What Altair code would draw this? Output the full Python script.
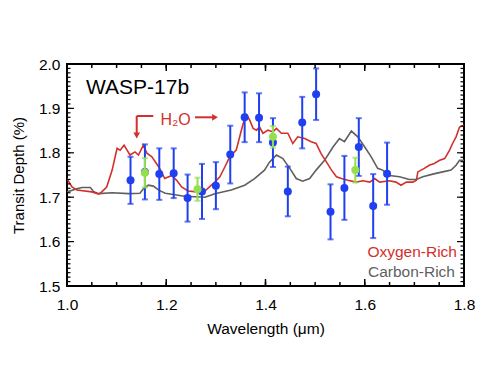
import altair as alt
import pandas as pd

# ---- data ----
blue_wl = [1.128, 1.157, 1.186, 1.215, 1.243, 1.272, 1.300, 1.329, 1.358, 1.387,
           1.415, 1.445, 1.474, 1.502, 1.531, 1.559, 1.588, 1.617, 1.645]
blue_td = [1.738, 1.757, 1.752, 1.754, 1.698, 1.713, 1.726, 1.796, 1.880, 1.879,
           1.823, 1.713, 1.868, 1.932, 1.667, 1.721, 1.813, 1.680, 1.753]
blue_err = [0.053, 0.062, 0.058, 0.056, 0.053, 0.062, 0.053, 0.065, 0.056, 0.055,
            0.055, 0.056, 0.058, 0.058, 0.062, 0.072, 0.065, 0.072, 0.070]

green_wl = [1.157, 1.263, 1.415, 1.581]
green_td = [1.755, 1.718, 1.836, 1.761]
green_err = [0.033, 0.026, 0.024, 0.028]

oxy_wl = [1.000, 1.010, 1.020, 1.050, 1.064, 1.070, 1.080, 1.091, 1.097, 1.101,
          1.107, 1.115, 1.121, 1.127, 1.137, 1.144, 1.154, 1.161, 1.171, 1.185,
          1.197, 1.211, 1.221, 1.231, 1.244, 1.261, 1.278, 1.291, 1.298, 1.308,
          1.318, 1.328, 1.341, 1.348, 1.355, 1.362, 1.368, 1.375, 1.382, 1.388,
          1.395, 1.405, 1.415, 1.422, 1.432, 1.445, 1.455, 1.465, 1.479, 1.492,
          1.502, 1.512, 1.523, 1.533, 1.543, 1.553, 1.566, 1.583, 1.596, 1.610,
          1.620, 1.630, 1.650, 1.663, 1.673, 1.684, 1.697, 1.704, 1.707, 1.720,
          1.730, 1.740, 1.751, 1.761, 1.771, 1.777, 1.784, 1.791, 1.800]
oxy_td = [1.742, 1.723, 1.716, 1.712, 1.707, 1.712, 1.723, 1.761, 1.791, 1.810,
          1.806, 1.817, 1.806, 1.795, 1.802, 1.795, 1.817, 1.799, 1.791, 1.768,
          1.742, 1.749, 1.738, 1.723, 1.714, 1.712, 1.714, 1.727, 1.734, 1.746,
          1.768, 1.791, 1.806, 1.836, 1.866, 1.885, 1.874, 1.855, 1.851, 1.858,
          1.844, 1.851, 1.847, 1.855, 1.844, 1.844, 1.821, 1.836, 1.832, 1.825,
          1.821, 1.798, 1.779, 1.761, 1.746, 1.742, 1.738, 1.734, 1.737, 1.734,
          1.742, 1.734, 1.737, 1.734, 1.727, 1.734, 1.734, 1.738, 1.757, 1.765,
          1.772, 1.776, 1.783, 1.787, 1.806, 1.821, 1.836, 1.858, 1.862]

carb_wl = [1.000, 1.020, 1.030, 1.047, 1.054, 1.064, 1.091, 1.124, 1.147, 1.154,
           1.164, 1.174, 1.185, 1.198, 1.237, 1.278, 1.298, 1.331, 1.358, 1.378,
           1.398, 1.408, 1.415, 1.422, 1.435, 1.449, 1.462, 1.475, 1.489, 1.502,
           1.519, 1.536, 1.549, 1.559, 1.573, 1.586, 1.600, 1.613, 1.626, 1.636,
           1.650, 1.670, 1.690, 1.704, 1.717, 1.737, 1.757, 1.774, 1.784, 1.791,
           1.800]
carb_td = [1.712, 1.719, 1.722, 1.722, 1.712, 1.708, 1.710, 1.708, 1.709, 1.719,
           1.727, 1.725, 1.716, 1.709, 1.702, 1.700, 1.708, 1.716, 1.727, 1.742,
           1.761, 1.779, 1.787, 1.795, 1.787, 1.765, 1.742, 1.736, 1.742, 1.761,
           1.783, 1.813, 1.832, 1.825, 1.849, 1.836, 1.813, 1.791, 1.765, 1.761,
           1.749, 1.746, 1.740, 1.740, 1.746, 1.752, 1.757, 1.761, 1.772, 1.783,
           1.783]

x_labels = [1.0, 1.2, 1.4, 1.6, 1.8]
y_labels = [1.5, 1.6, 1.7, 1.8, 1.9, 2.0]
x_minor = [round(1.0 + 0.05 * i, 2) for i in range(17)]
y_minor = [round(1.5 + 0.01 * i, 2) for i in range(51)]

# ---- styles ----
FONT = "Liberation Sans"
RED = "#d2302a"
GRAY = "#5f5f5f"
BLUE = "#1f3ff0"
GREEN = "#93e04c"
W, H = 397, 222

xs = alt.Scale(domain=[1.0, 1.8], nice=False, zero=False)
ys = alt.Scale(domain=[1.5, 2.0], nice=False, zero=False)
xaxis = alt.Axis(values=x_labels, format=".1f", ticks=False, domain=False, grid=False,
                 labelFont=FONT, labelFontSize=15.5, labelColor="black", labelPadding=11,
                 labelFlush=False, title="Wavelength (μm)", titleFont=FONT,
                 titleFontSize=15.5, titleFontWeight="normal", titleColor="black",
                 titlePadding=9)
yaxis = alt.Axis(values=y_labels, format=".1f", ticks=False, domain=False, grid=False,
                 labelFont=FONT, labelFontSize=15.5, labelColor="black", labelPadding=7,
                 labelFlush=False, title="Transit Depth (%)", titleFont=FONT,
                 titleFontSize=15, titleFontWeight="normal", titleColor="black",
                 titlePadding=12)


def X(f="wl"):
    return alt.X(f, type="quantitative", scale=xs, axis=xaxis)


def Y(f="td"):
    return alt.Y(f, type="quantitative", scale=ys, axis=yaxis)


blue = pd.DataFrame({"wl": blue_wl, "td": blue_td, "err": blue_err})
blue["lo"] = blue["td"] - blue["err"]
blue["hi"] = blue["td"] + blue["err"]
green = pd.DataFrame({"wl": green_wl, "td": green_td, "err": green_err})
green["lo"] = green["td"] - green["err"]
green["hi"] = green["td"] + green["err"]
oxy = pd.DataFrame({"wl": oxy_wl, "td": oxy_td})
carb = pd.DataFrame({"wl": carb_wl, "td": carb_td})
xmaj = pd.DataFrame({"wl": x_labels})
xmin = pd.DataFrame({"wl": x_minor})
ymaj = pd.DataFrame({"td": y_labels})
ymin = pd.DataFrame({"td": y_minor})
one = pd.DataFrame({"k": [0]})

layers = []

# model lines
layers.append(alt.Chart(carb).mark_line(color=GRAY, strokeWidth=1.6, clip=True)
              .encode(x=X(), y=Y()))
layers.append(alt.Chart(oxy).mark_line(color=RED, strokeWidth=1.6, clip=True)
              .encode(x=X(), y=Y()))


def errlayers(df, color, size):
    out = []
    out.append(alt.Chart(df).mark_rule(color=color, strokeWidth=2)
               .encode(x=X(), y=Y("lo"), y2="hi"))
    out.append(alt.Chart(df).mark_tick(color=color, orient="horizontal", size=6, thickness=2)
               .encode(x=X(), y=Y("lo")))
    out.append(alt.Chart(df).mark_tick(color=color, orient="horizontal", size=6, thickness=2)
               .encode(x=X(), y=Y("hi")))
    out.append(alt.Chart(df).mark_point(color=color, filled=True, opacity=1, size=size)
               .encode(x=X(), y=Y()))
    return out


layers += errlayers(blue, BLUE, 64)
layers += errlayers(green, GREEN, 64)

# inward ticks (frame)
for df, ln in ((xmaj, 7), (xmin, 4)):
    layers.append(alt.Chart(df).mark_rule(color="black", strokeWidth=1.5)
                  .encode(x=X(), y=alt.value(H), y2=alt.value(H - ln)))
    layers.append(alt.Chart(df).mark_rule(color="black", strokeWidth=1.5)
                  .encode(x=X(), y=alt.value(0), y2=alt.value(ln)))
for df, ln in ((ymaj, 7), (ymin, 3.5)):
    layers.append(alt.Chart(df).mark_rule(color="black", strokeWidth=1.2)
                  .encode(y=Y(), x=alt.value(0), x2=alt.value(ln)))
    layers.append(alt.Chart(df).mark_rule(color="black", strokeWidth=1.2)
                  .encode(y=Y(), x=alt.value(W), x2=alt.value(W - ln)))

# annotations
layers.append(alt.Chart(one).mark_text(text="WASP-17b", font=FONT, fontSize=21,
                                       align="left", baseline="alphabetic", color="black")
              .encode(x=alt.value(19), y=alt.value(30)))
layers.append(alt.Chart(one).mark_text(text="H₂O", font=FONT, fontSize=16,
                                       align="center", baseline="middle", color=RED)
              .encode(x=alt.value(108.5), y=alt.value(56)))
layers.append(alt.Chart(one).mark_rule(color=RED, strokeWidth=2)
              .encode(x=alt.value(69.7), x2=alt.value(86.3), y=alt.value(52)))
layers.append(alt.Chart(one).mark_rule(color=RED, strokeWidth=2)
              .encode(x=alt.value(69.7), y=alt.value(52), y2=alt.value(70)))
layers.append(alt.Chart(one).mark_point(shape="triangle-down", filled=True, opacity=1,
                                        color=RED, size=45)
              .encode(x=alt.value(69.7), y=alt.value(71.5)))
layers.append(alt.Chart(one).mark_rule(color=RED, strokeWidth=2)
              .encode(x=alt.value(128), x2=alt.value(146), y=alt.value(53.3)))
layers.append(alt.Chart(one).mark_point(shape="triangle-right", filled=True, opacity=1,
                                        color=RED, size=45)
              .encode(x=alt.value(148), y=alt.value(53.3)))
layers.append(alt.Chart(one).mark_text(text="Oxygen-Rich", font=FONT, fontSize=15.5,
                                       align="right", baseline="middle", color=RED)
              .encode(x=alt.value(390), y=alt.value(188)))
layers.append(alt.Chart(one).mark_text(text="Carbon-Rich", font=FONT, fontSize=15.5,
                                       align="right", baseline="middle", color=GRAY)
              .encode(x=alt.value(388), y=alt.value(207.5)))

chart = (alt.layer(*layers)
         .properties(width=W, height=H, autosize=alt.AutoSizeParams(type="none"),
                     padding={"left": 59, "top": 56, "right": 12, "bottom": 93},
                     background="white")
         .configure_view(stroke="black", strokeWidth=2))

chart.save("out.html", embed_options={"renderer": "svg", "actions": False})
